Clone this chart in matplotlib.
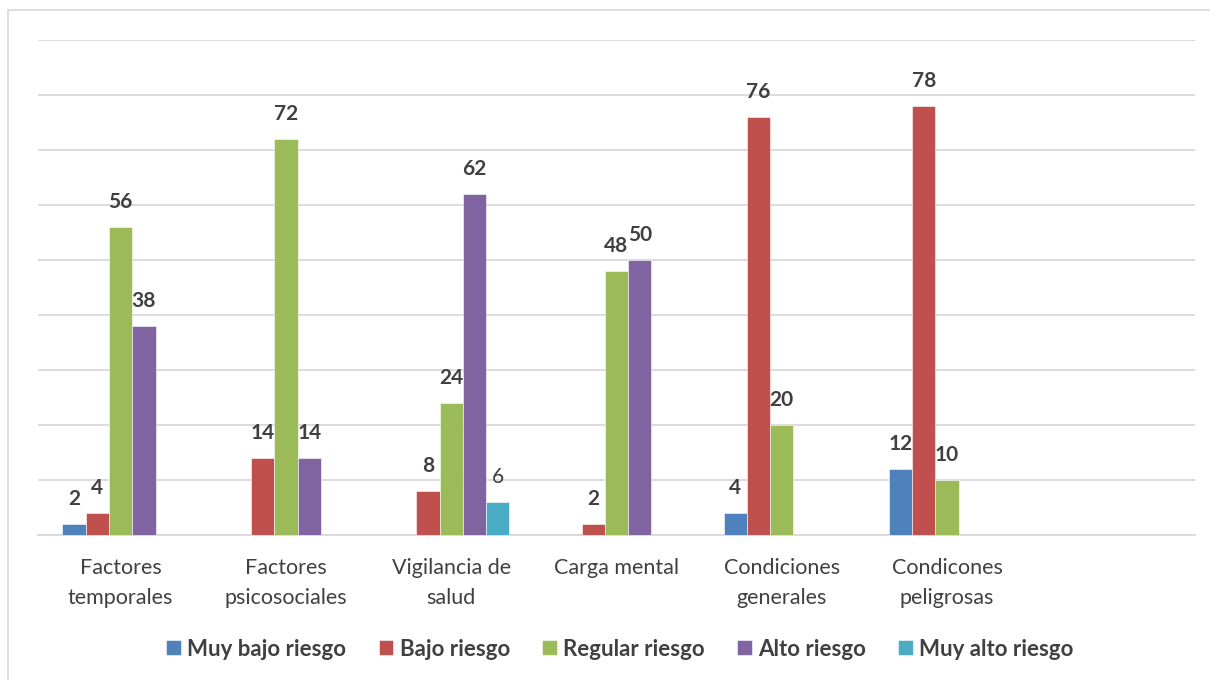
import numpy as np
import matplotlib
matplotlib.use("Agg")
import matplotlib.pyplot as plt
from matplotlib.patches import Rectangle

plt.rcParams["font.family"] = ["Lato", "DejaVu Sans"]

categories = [
    "Factores\ntemporales",
    "Factores\npsicosociales",
    "Vigilancia de\nsalud",
    "Carga mental",
    "Condiciones\ngenerales",
    "Condicones\npeligrosas",
    "",
]
series_names = ["Muy bajo riesgo", "Bajo riesgo", "Regular riesgo", "Alto riesgo", "Muy alto riesgo"]
muy_bajo = [2, None, None, None, 4, 12, None]
bajo = [4, 14, 8, 2, 76, 78, None]
regular = [56, 72, 24, 48, 20, 10, None]
alto = [38, 14, 62, 50, None, None, None]
muy_alto = [None, None, 6, None, None, None, None]

colors = ["#4F81BD", "#C0504D", "#9BBB59", "#8064A2", "#4BACC6"]
text_color = "#404040"

fig = plt.figure(figsize=(12.1, 6.8), dpi=100)
ax = fig.add_axes([38 / 1210, 145 / 680, (1195 - 38) / 1210, (535 - 40) / 680])

# outer chart border
fig.patches.append(Rectangle((8 / 1210, -0.05), 1.1, 670 / 680 + 0.05,
                             transform=fig.transFigure, fill=False,
                             edgecolor="#D9D9D9", linewidth=1.2))

x = np.arange(len(categories))
width = 0.141
all_series = [muy_bajo, bajo, regular, alto, muy_alto]

for i, (name, vals, col) in enumerate(zip(series_names, all_series, colors)):
    offset = (i - 2) * width
    heights = [v if v is not None else 0 for v in vals]
    ax.bar(x + offset, heights, width, color=col, label=name,
           edgecolor="white", linewidth=0.4, zorder=3)
    for xi, v in zip(x, vals):
        if v is None:
            continue
        weight = "normal" if i == 4 else "bold"
        ax.annotate(str(v), (xi + offset, v), xytext=(0, 13.5), textcoords="offset points",
                    ha="center", va="baseline", fontsize=15, fontweight=weight,
                    color=text_color)

ax.set_xlim(-0.5, len(categories) - 0.5)
ax.set_ylim(0, 90)
ax.set_yticks(np.arange(0, 91, 10))
ax.set_yticklabels([])
ax.tick_params(axis="y", length=0)
ax.grid(axis="y", color="#D9D9D9", linewidth=1.3, zorder=0)
ax.set_xticks(x)
ax.set_xticklabels(categories, fontsize=15.5, color=text_color, linespacing=1.6)
ax.tick_params(axis="x", length=0, pad=16.5)
for s in ["top", "right", "left"]:
    ax.spines[s].set_visible(False)
ax.spines["bottom"].set_color("#D9D9D9")
ax.spines["bottom"].set_linewidth(1.3)

leg = fig.legend(loc="center", bbox_to_anchor=(620 / 1210, 1 - 649 / 680), ncol=5,
                 frameon=False, handlelength=0.65, handleheight=0.65, handletextpad=0.3,
                 columnspacing=1.45, prop={"size": 16, "weight": "bold"})
for t in leg.get_texts():
    t.set_color(text_color)

fig.savefig("out.png", dpi=100)
